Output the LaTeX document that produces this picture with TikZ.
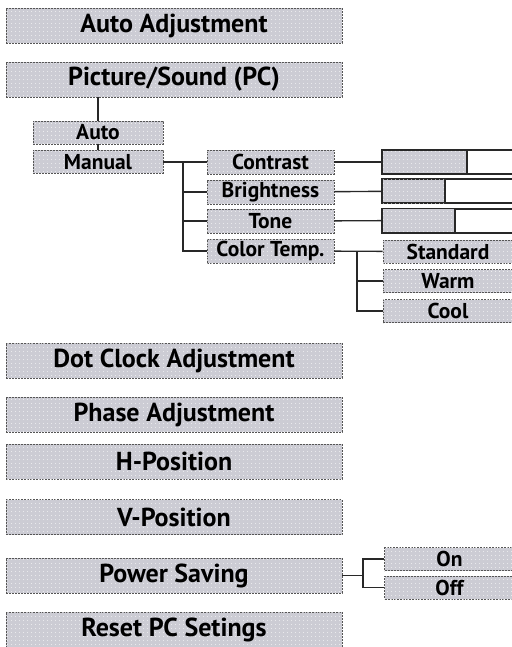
\documentclass[tikz,border=0pt]{standalone}
\usepackage{fontspec}
\setmainfont{PT Sans}
\usetikzlibrary{patterns.meta}
\definecolor{boxgray}{RGB}{204,204,212}
\definecolor{boxedge}{RGB}{85,85,85}
\definecolor{wirecol}{RGB}{40,40,40}

\begin{document}
\begin{tikzpicture}[x=1pt,y=-1pt]
		\tikzstyle{menu}=[draw=boxedge, dash pattern=on 2pt off 1pt, line width=0.8pt, fill=boxgray, postaction={pattern={Dots[distance=4pt,radius=0.55pt]}, pattern color=white}, minimum width=336pt, minimum height=35pt, inner sep=0pt, font=\bfseries\fontsize{26}{26}\selectfont];
		\tikzstyle{sub}=[menu, minimum width=130pt, minimum height=23pt, font=\bfseries\fontsize{21.5}{21.5}\selectfont];
		\tikzstyle{bar}=[draw=wirecol, line width=2pt, fill=white, minimum width=132pt, minimum height=24pt, inner sep=0pt];
		\tikzstyle{level}=[draw=wirecol, line width=1.6pt, fill=boxgray, postaction={pattern={Dots[distance=4pt,radius=0.55pt]}, pattern color=white}, minimum height=24pt, inner sep=0pt, anchor=west];
		\tikzstyle{wire}=[draw=wirecol, line width=1.4pt];

		\useasboundingbox (0,0) rectangle (511,647);

		% top level menu
		\node[menu] (autoadj) at (174,25.5) {Auto Adjustment};
		\node[menu] (picsound) at (174,79.5) {Picture/Sound (PC)};
		\node[menu] (dotclock) at (174,360.5) {Dot Clock Adjustment};
		\node[menu] (phase) at (174,414.5) {Phase Adjustment};
		\node[menu] (hpos) at (174,461.5) {H-Position};
		\node[menu] (vpos) at (174,517) {V-Position};
		\node[menu] (power) at (174,575.5) {Power Saving};
		\node[menu] (reset) at (174,629.5) {Reset PC Setings};

		% picture/sound
		\node[sub] (auto) at (98,132.5) {Auto};
		\node[sub] (manual) at (98,162) {Manual};
		\node[sub, minimum width=127pt, minimum height=24pt] (contrast) at (270.5,162) {Contrast};
		\node[sub, minimum width=127pt, minimum height=24pt] (brightness) at (270.5,192) {Brightness};
		\node[sub, minimum width=127pt, minimum height=24pt] (tone) at (270.5,221) {Tone};
		\node[sub, minimum width=127pt, minimum height=24pt] (colortemp) at (270.5,251) {Color Temp.};

		\node[bar] (contrastbar) at (448,162) {};
		\node[level, minimum width=85pt] (contrastlvl) at (contrastbar.west) {};
		\node[bar] (brightnessbar) at (448,191) {};
		\node[level, minimum width=63pt] (brightnesslvl) at (brightnessbar.west) {};
		\node[bar] (tonebar) at (448,220.5) {};
		\node[level, minimum width=73pt] (tonelvl) at (tonebar.west) {};

		\node[sub] (standard) at (448,251.5) {Standard};
		\node[sub] (warm) at (448,281) {Warm};
		\node[sub] (cool) at (448,311) {Cool};

		% power saving
		\node[sub] (on) at (449.5,559) {On};
		\node[sub] (off) at (449.5,587.5) {Off};

		\coordinate (mfork) at (183,162);
		\coordinate (cfork) at (357,251);
		\coordinate (pfork) at (363,575.5);

		\draw[wire] (picsound.south -| auto) to (auto) ;
		\draw[wire] (auto) to (manual) ;
		\draw[wire] (manual) to (contrast) ;
		\draw[wire] (mfork) |- (brightness) ;
		\draw[wire] (mfork) |- (tone) ;
		\draw[wire] (mfork) |- (colortemp) ;
		\draw[wire] (contrast) to (contrastbar) ;
		\draw[wire] (brightness) to (brightnessbar) ;
		\draw[wire] (tone) to (tonebar) ;
		\draw[wire] (colortemp) to (standard) ;
		\draw[wire] (cfork) |- (warm) ;
		\draw[wire] (cfork) |- (cool) ;
		\draw[wire] (power) to (pfork) ;
		\draw[wire] (pfork) |- (on) ;
		\draw[wire] (pfork) |- (off) ;
\end{tikzpicture}
\end{document}
